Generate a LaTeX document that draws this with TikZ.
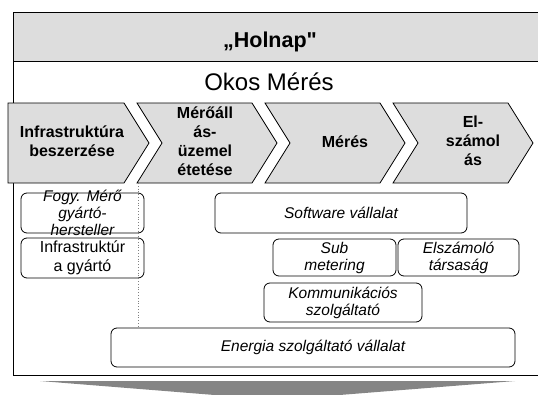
\documentclass[tikz,border=0pt]{standalone}
\usepackage{fontspec}
\setmainfont{Liberation Sans}
\newfontfamily\titlefont[Ligatures=TeXOff]{Liberation Sans}
\definecolor{panelgray}{HTML}{DDDDDD}
\definecolor{arrowgray}{HTML}{858585}
\begin{document}
\begin{tikzpicture}[x=1pt,y=-1pt,
  frame/.style={draw=black, line width=0.9pt},
  chev/.style={fill=panelgray, draw=black, line width=0.8pt, line join=miter},
  chevtext/.style={font=\bfseries\fontsize{16}{19}\selectfont, align=center, inner sep=0pt},
  box/.style={draw=black, line width=0.8pt, rounded corners=6pt, fill=white, inner sep=0pt},
  boxtext/.style={font=\itshape\fontsize{15.5}{17}\selectfont, align=center, inner sep=0pt},
]
\useasboundingbox (0,0) rectangle (538,394);

% outer frame with the grey title band
\fill[panelgray] (13,12) rectangle (545,61);
\draw[frame] (545,12) -- (13,12) -- (13,375) -- (545,375);
\draw[frame] (13,61) -- (545,61);
\node[font=\titlefont\bfseries\fontsize{21.5}{25}\selectfont, anchor=base] (title) at (270,47) {„Holnap"};
\node[font=\fontsize{24}{28}\selectfont, anchor=base] (sub) at (269,90) {Okos Mérés};

% process chevrons
\draw[chev] (8,103) -- (124,103) -- (149,143) -- (124,183) -- (8,183) -- cycle;
\draw[chev] (137,103) -- (252,103) -- (277,143) -- (252,183) -- (137,183) -- (162,143) -- cycle;
\draw[chev] (265,103) -- (380,103) -- (405,143) -- (380,183) -- (265,183) -- (290,143) -- cycle;
\draw[chev] (393,103) -- (508,103) -- (533,143) -- (508,183) -- (393,183) -- (418,143) -- cycle;
\node[chevtext] (p1) at (72,141) {Infrastruktúra\\beszerzése};
\node[chevtext] (p2) at (205,141.5) {Mérőáll\\ás-\\üzemel\\étetése};
\node[chevtext] (p3) at (345,142) {Mérés};
\node[chevtext] (p4) at (473,141) {El-\\számol\\ás};

% actors
\node[box, minimum width=123pt, minimum height=40pt] (fogy) at (82.5,213) {};
\node[boxtext] at (fogy) {Fogy. Mérő\\gyártó-\\hersteller};
\node[box, minimum width=123pt, minimum height=40pt] (infra) at (82.5,258) {};
\node[font=\fontsize{16}{19}\selectfont, align=center, inner sep=0pt] at (infra) {Infrastruktúr\\a gyártó};
\node[box, minimum width=252pt, minimum height=40pt] (soft) at (341,213) {};
\node[boxtext] at (soft) {Software vállalat};
\node[box, minimum width=123pt, minimum height=37pt] (subm) at (334.5,257.5) {};
\node[boxtext] at (subm) {Sub\\metering};
\node[box, minimum width=121pt, minimum height=37pt] (elsz) at (458.5,257.5) {};
\node[boxtext] at (elsz) {Elszámoló\\társaság};
\node[box, minimum width=158pt, minimum height=39pt] (komm) at (343,302.5) {};
\node[boxtext] at (komm) {Kommunikációs\\szolgáltató};
\node[box, minimum width=404pt, minimum height=39pt] (energ) at (313,347.5) {};
\node[boxtext] at (energ) {Energia szolgáltató vállalat};

% separator between procurement and operation
\coordinate (sep) at (138,183);
\draw[gray, dotted, line width=0.8pt] (sep) -- (sep |- energ.north);

% downward arrow beneath the frame
\fill[arrowgray] (40,381) -- (515,381) -- (277,400) -- cycle;
\end{tikzpicture}
\end{document}
